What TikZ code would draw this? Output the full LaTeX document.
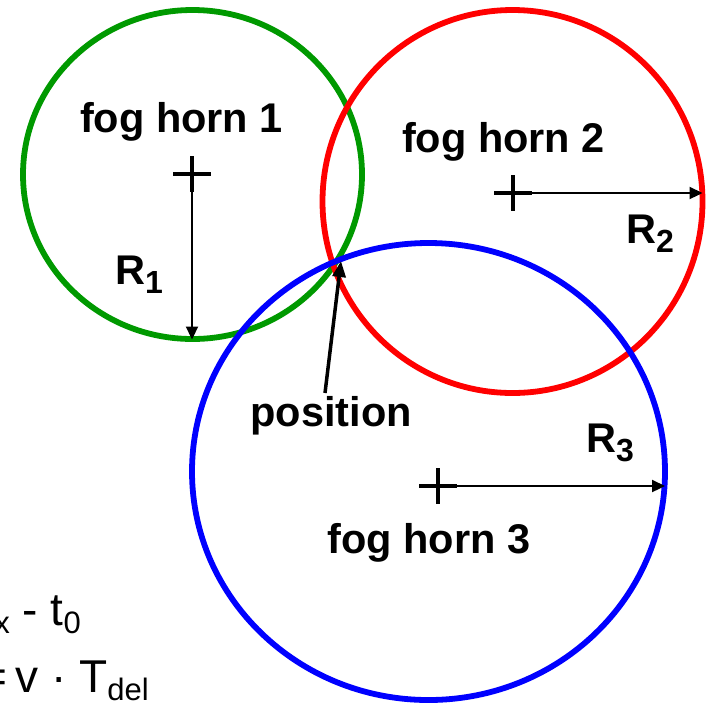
\documentclass[tikz,border=0pt]{standalone}
\usepackage{fontspec}
\setmainfont{Liberation Sans}
\usetikzlibrary{arrows.meta}
\definecolor{hgreen}{RGB}{0,153,0}
\definecolor{hred}{RGB}{255,0,0}
\definecolor{hblue}{RGB}{0,0,255}
\newcommand\bsub[1]{\raisebox{-9pt}{\fontsize{32}{32}\selectfont #1}}
\newcommand\rsub[1]{\raisebox{-8pt}{\fontsize{31}{31}\selectfont #1}}
\tikzset{
  ring/.style={line width=5.8pt},
  crossmark/.style={line width=4pt},
  radarrow/.style={line width=2.2pt,-{Triangle[length=13pt,width=12pt]}},
  posarrow/.style={line width=3.5pt,-{Triangle[length=16pt,width=13pt]}},
  lbl/.style={font=\fontsize{41.5}{48}\selectfont\bfseries,inner sep=0pt,anchor=base},
  rlbl/.style={font=\fontsize{41.5}{48}\selectfont\bfseries,inner sep=0pt,anchor=base west},
  frm/.style={font=\fontsize{46}{52}\selectfont,inner sep=0pt,anchor=base east}
}
\begin{document}
\begin{tikzpicture}[x=1pt,y=-1pt]
\useasboundingbox (0,0) rectangle (708,705);
% circles
\draw[ring,hgreen] (192.5,174.5) ellipse [x radius=169.5, y radius=164.5];
\draw[ring,hred] (512.5,201.5) ellipse [x radius=190, y radius=191.5];
\draw[ring,hblue] (428.5,471.5) ellipse [x radius=236.5, y radius=228.5];
% centres and edges
\coordinate (c1) at (192,174);
\coordinate (e1) at (192,339.5);
\coordinate (c2) at (513,193);
\coordinate (e2) at (702.5,193);
\coordinate (c3) at (438,486);
\coordinate (e3) at (665,486);
\coordinate (ptail) at (325,393);
\coordinate (ptip) at (341,261);
% crosses
\draw[crossmark] (c1) ++(-19,0) -- ++(38,0);
\draw[crossmark] (c1) ++(0,-18) -- ++(0,36);
\draw[crossmark] (c2) ++(-19,0) -- ++(38,0);
\draw[crossmark] (c2) ++(0,-18) -- ++(0,36);
\draw[crossmark] (c3) ++(-19,0) -- ++(38,0);
\draw[crossmark] (c3) ++(0,-18) -- ++(0,36);
% radius arrows
\draw[radarrow] (c1) -- (e1);
\draw[radarrow] (c2) -- (e2);
\draw[radarrow] (c3) -- (e3);
\draw[posarrow] (ptail) -- (ptip);
% labels
\node[lbl] (fh1) at (181.5,132) {fog horn 1};
\node[lbl] (fh2) at (503.5,152) {fog horn 2};
\node[lbl] (fh3) at (429,553) {fog horn 3};
\node[lbl] (pos) at (331,426) {position};
\node[rlbl] (r1) at (115,284) {R\bsub{1}};
\node[rlbl] (r2) at (626,243) {R\bsub{2}};
\node[rlbl] (r3) at (586,452) {R\bsub{3}};
% formulas (cut at the left edge, as in the reference)
\node[frm] (f1) at (81,625) {T\rsub{del} = t\rsub{x} - t\rsub{0}};
\node[frm] (f2) at (149,692) {R =\hspace{8pt}v · T\rsub{del}};
\end{tikzpicture}
\end{document}
